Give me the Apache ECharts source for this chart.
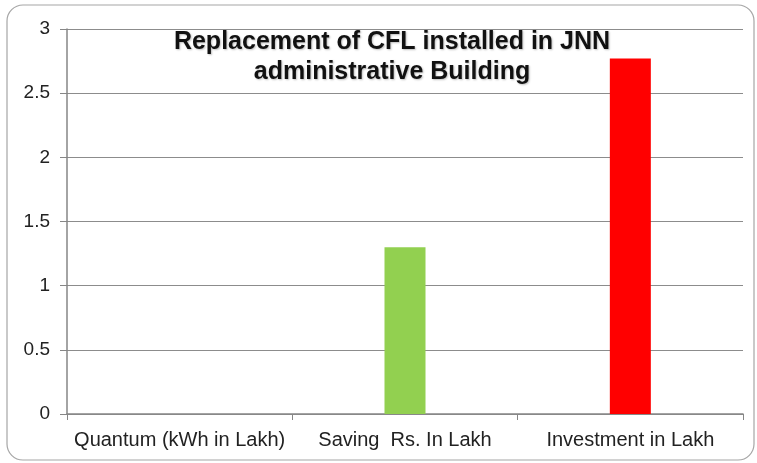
<!DOCTYPE html>
<html>
<head>
<meta charset="utf-8">
<script src="https://cdn.jsdelivr.net/npm/echarts@6/dist/echarts.min.js"></script>
<style>
  html, body { margin: 0; padding: 0; background: #fff; }
  #chart { width: 757px; height: 463px; }
</style>
</head>
<body>
<div id="chart"></div>
<script>
// categories and values
var categories = ["Quantum (kWh in Lakh)", "Saving  Rs. In Lakh", "Investment in Lakh"];
var values = [0, 1.3, 2.77];
var barColors = ["#4F81BD", "#92D050", "#FF0000"];

var myChart = echarts.init(document.getElementById("chart"));
var option = {
  animation: false,
  backgroundColor: "#fff",
  graphic: [
    {
      type: "rect",
      shape: { x: 7, y: 5, width: 747, height: 455, r: 16 },
      style: { fill: "none", stroke: "#A6A6A6", lineWidth: 1.2 },
      z: -1
    }
  ],
  title: {
    text: "Replacement of CFL installed in JNN\nadministrative Building",
    left: 387,
    top: 22,
    textAlign: "center",
    textStyle: {
      fontFamily: "Liberation Sans",
      fontSize: 25,
      fontWeight: "bold",
      color: "#111",
      lineHeight: 30,
      textShadowColor: "rgba(0,0,0,0.25)",
      textShadowBlur: 2,
      textShadowOffsetX: 1,
      textShadowOffsetY: 1
    }
  },
  grid: {
    left: 67,
    right: 14,
    top: 29,
    bottom: 49
  },
  xAxis: {
    type: "category",
    data: categories,
    axisLine: { show: true, lineStyle: { color: "#868686", width: 1.5 } },
    axisTick: { show: true, length: 6, lineStyle: { color: "#868686" } },
    axisLabel: {
      color: "#222",
      fontFamily: "Liberation Sans",
      fontSize: 20,
      margin: 16,
      interval: 0
    },
    splitLine: { show: false }
  },
  yAxis: {
    type: "value",
    min: 0,
    max: 3,
    interval: 0.5,
    axisLine: { show: true, lineStyle: { color: "#868686", width: 1.5 } },
    axisTick: { show: true, length: 7, lineStyle: { color: "#868686" } },
    axisLabel: {
      color: "#222",
      fontFamily: "Liberation Sans",
      fontSize: 19,
      margin: 17
    },
    splitLine: { show: true, lineStyle: { color: "#8C8C8C", width: 1 } }
  },
  series: [
    {
      type: "bar",
      barWidth: 41,
      data: values.map(function (v, i) {
        return { value: v, itemStyle: { color: barColors[i] } };
      })
    }
  ]
};
myChart.setOption(option);
</script>
</body>
</html>
